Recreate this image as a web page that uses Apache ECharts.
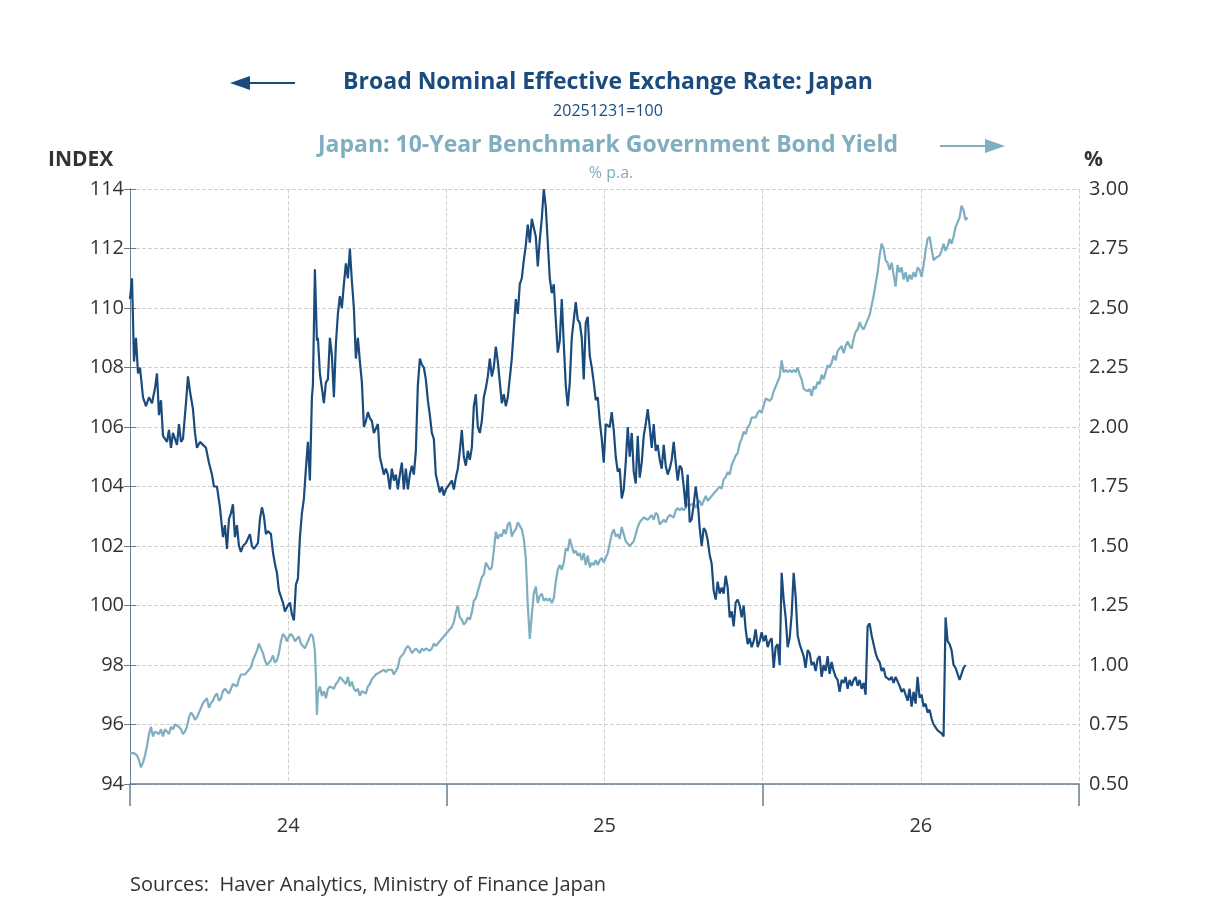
<!DOCTYPE html>
<html><head><meta charset="utf-8">
<script src="https://cdn.jsdelivr.net/npm/echarts@6/dist/echarts.min.js"></script>
<style>html,body{margin:0;padding:0;background:#fff}#c{width:1208px;height:906px}</style>
</head><body><div id="c"></div>
<script>
// x unit: trading-session offset from series start; axis spans 0..949, one year = 316.5
const yearLabels = ['24', '25', '26'];
// Broad NEER (index), irregular head then regular every 2 sessions
const neerHead = [[0,110.3],[2,111.0],[4,108.2],[6,109.0],[8,107.8],[10,108.0],[13,107.0],[16,106.7],[19,107.0],[22,106.8],[25,107.3],[27,107.8],[29,106.4],[31,106.9],[33,105.7],[35,105.6],[37,105.5],[39,105.9],[41,105.3],[43,105.8],[45,105.6],[47,105.4],[49,106.1],[51,105.5],[53,105.6],[56,106.8],[58,107.7],[60,107.2],[63,106.6],[65,105.8],[67,105.3],[70,105.5],[73,105.4],[76,105.3],[79,104.8],[82,104.4],[84,104.0],[87,104.0],[90,103.3],[93,102.3],[95,102.7],[97,101.9],[99,102.9],[101,103.1],[103,103.4],[105,102.3],[107,102.7],[109,102.0],[111,101.8],[113,102.0],[116,102.1],[120,102.4],[122,102.0],[124,101.9],[126,102.0],[128,102.1],[130,102.9],[132,103.3],[134,103.0],[136,102.4],[138,102.5],[141,102.4],[143,101.8],[145,101.4],[147,101.1],[149,100.5],[151,100.3],[153,100.1],[155,99.8],[158,100.0],[160,100.1],[162,99.7],[164,99.5],[166,100.7],[168,100.9],[170,102.3],[172,103.1],[174,103.6],[176,104.6],[178,105.5],[180,104.2],[182,107.0],[183,107.4],[185,111.3],[187,108.9],[188,109.0]];
const neerTailStart = 190;
const neerTail = [107.8,107.3,106.8,107.5,107.6,109.0,108.4,107.0,108.8,109.8,110.4,110.0,110.8,
111.5,111.0,112.0,110.9,110.0,108.3,109.0,108.2,107.5,106.0,106.2,106.5,106.3,106.2,105.8,105.8,106.1,105.0,105.0,104.4,104.6,104.4,103.9,104.6,104.2,104.4,103.9,104.4,104.8,103.9,104.6,103.9,104.4,104.7,104.4,105.2,107.4,108.3,108.1,108.0,107.6,106.9,106.4,105.8,105.6,104.4,104.1,103.8,104.0,103.7,103.9,104.0,
104.0,104.2,103.9,104.3,104.6,105.2,105.9,105.0,104.7,105.2,104.9,105.3,106.7,107.1,106.0,105.8,106.2,107.0,107.3,107.7,108.3,107.7,108.0,108.7,108.2,107.5,106.8,107.1,106.7,107.0,107.0,108.3,109.3,110.3,109.8,110.8,111.0,111.6,112.1,112.8,112.2,113.0,112.7,112.4,111.4,112.3,113.0,114.0,113.4,112.2,111.0,110.5,110.8,109.6,108.5,108.9,110.3,108.8,107.4,106.7,107.5,109.0,109.6,110.2,109.6,109.5,109.0,107.6,109.5,109.7,108.4,108.0,107.5,106.9,107.0,106.2,105.6,104.8,106.1,106.1,106.0,106.5,105.9,105.0,104.5,104.6,103.6,103.9,104.8,106.0,105.0,105.8,104.5,104.1,105.7,104.3,104.8,105.7,106.1,106.6,106.0,105.3,106.1,105.2,105.4,104.9,104.6,105.4,104.7,104.4,104.6,104.9,105.5,104.8,104.2,104.7,104.6,104.0,103.3,104.4,102.8,102.9,103.4,104.0,103.5,102.6,102.0,102.6,102.5,102.2,101.7,101.4,100.5,100.2,100.8,100.4,100.6,100.4,101.0,100.6,99.6,99.8,99.3,100.1,100.2,100.0,99.6,100.0,99.2,98.7,98.9,98.6,98.8,99.2,98.6,98.8,99.1,98.8,99.0,98.6,98.8,98.9,97.9,98.6,98.7,98.0,101.1,100.2,99.6,98.6,98.9,99.7,101.1,100.3,99.0,98.7,98.7,98.3,97.9,98.5,98.4,98.0,98.1,97.8,98.2,98.3,97.6,98.0,97.8,98.3,97.7,98.1,97.8,97.6,97.5,97.1,97.5,97.4,97.6,97.2,97.5,97.3,97.5,97.6,97.3,97.5,97.2,97.4,97.0,99.3,99.4,99.0,98.7,98.4,98.2,98.1,97.8,97.9,97.6,97.6,97.5,97.6,97.4,97.6,97.6,97.3,97.1,97.2,97.0,96.8,97.2,96.6,97.1,96.7,97.6,96.9,97.0,96.6,96.7,96.4,96.5,96.2,96.0,95.9,95.8,95.8,95.7,95.6,99.6,98.8,98.7,98.5,98.0,97.9,97.9,97.5,97.5,97.9,98.0];
// JGB 10Y yield (% p.a.)
const jgbHead = [[0,0.63],[4,0.63],[7,0.62],[9,0.60],[11,0.57],[13,0.59],[15,0.62],[17,0.66],[19,0.71],[21,0.74],[23,0.70],[25,0.72],[27,0.72],[29,0.71],[31,0.73],[33,0.70],[35,0.73],[37,0.73],[39,0.71],[41,0.74],[43,0.73],[45,0.75],[47,0.75],[49,0.74],[51,0.73],[53,0.71],[55,0.72],[57,0.74],[59,0.78],[61,0.80],[63,0.79],[65,0.77],[67,0.78],[69,0.80],[71,0.82],[73,0.84],[75,0.85],[77,0.86],[79,0.82],[81,0.84],[83,0.85],[85,0.87],[87,0.88],[89,0.85],[91,0.86],[93,0.89],[95,0.90],[97,0.90],[99,0.88],[101,0.90],[103,0.92],[105,0.92],[107,0.91],[109,0.94],[111,0.96],[113,0.96],[115,0.96],[117,0.97],[119,0.98],[121,0.99],[123,1.02],[125,1.04],[127,1.06],[129,1.09],[131,1.07],[133,1.05],[135,1.02],[137,1.00],[139,1.01],[141,1.02],[143,1.04],[145,1.01],[147,1.02],[149,1.05],[151,1.10],[153,1.13],[155,1.12],[157,1.10],[159,1.12],[161,1.13],[163,1.12],[165,1.10],[167,1.11],[169,1.12],[171,1.09],[173,1.08],[175,1.07],[177,1.09],[179,1.11],[181,1.13],[183,1.12],[185,1.06],[186,0.95],[187,0.79],[188,0.88]];
const jgbTailStart = 190;
const jgbTail = [0.91,0.87,0.89,0.86,0.90,0.91,0.91,0.90,0.92,0.93,0.95,0.94,0.93,0.92,0.95,0.91,0.93,0.90,0.89,0.90,0.87,0.89,0.89,0.88,0.91,0.92,0.94,0.95,0.96,0.96,0.97,0.97,0.98,0.97,0.98,0.98,0.98,0.96,0.96,0.99,1.03,1.03,1.05,1.07,1.08,1.07,1.05,1.06,1.07,1.06,1.05,1.07,1.06,1.07,1.07,1.06,1.07,1.09,1.08,1.09,1.09,1.11,1.12,1.13,1.14,1.15,1.16,1.18,1.22,1.25,1.20,1.19,1.17,1.18,1.20,1.19,1.22,1.27,1.28,1.31,1.34,1.37,1.38,1.43,1.43,1.40,1.41,1.48,1.56,1.53,1.55,1.54,1.57,1.55,1.59,1.60,1.54,1.56,1.57,1.60,1.60,1.57,1.53,1.45,1.25,1.11,1.21,1.30,1.33,1.26,1.29,1.30,1.27,1.28,1.27,1.28,1.26,1.28,1.35,1.40,1.42,1.40,1.43,1.49,1.48,1.53,1.50,1.47,1.48,1.46,1.47,1.44,1.47,1.42,1.46,1.41,1.43,1.42,1.44,1.42,1.44,1.45,1.43,1.43,1.47,1.51,1.55,1.57,1.54,1.55,1.53,1.58,1.58,1.52,1.51,1.50,1.51,1.52,1.55,1.58,1.60,1.61,1.62,1.62,1.61,1.62,1.63,1.61,1.64,1.63,1.59,1.59,1.61,1.60,1.62,1.63,1.63,1.62,1.65,1.66,1.65,1.66,1.65,1.66,1.68,1.67,1.67,1.68,1.66,1.68,1.69,1.67,1.69,1.71,1.69,1.70,1.71,1.72,1.73,1.74,1.75,1.74,1.78,1.79,1.81,1.80,1.84,1.86,1.88,1.89,1.93,1.95,1.98,1.97,2.00,2.01,2.04,2.04,2.04,2.06,2.07,2.06,2.09,2.12,2.12,2.11,2.12,2.15,2.17,2.19,2.21,2.28,2.23,2.24,2.23,2.24,2.23,2.24,2.23,2.25,2.22,2.20,2.16,2.16,2.15,2.16,2.13,2.17,2.16,2.19,2.18,2.22,2.20,2.23,2.26,2.25,2.27,2.30,2.28,2.32,2.33,2.34,2.31,2.34,2.36,2.34,2.33,2.37,2.40,2.41,2.44,2.42,2.41,2.43,2.45,2.47,2.51,2.55,2.60,2.65,2.72,2.77,2.75,2.70,2.69,2.66,2.69,2.64,2.59,2.68,2.65,2.67,2.62,2.65,2.61,2.64,2.62,2.65,2.63,2.67,2.66,2.63,2.68,2.74,2.79,2.80,2.75,2.70,2.71,2.71,2.72,2.74,2.77,2.74,2.76,2.79,2.77,2.80,2.84,2.86,2.88,2.93,2.91,2.87,2.88];

function build(head, start, tail) {
  return head.concat(tail.map((v, i) => [start + 2 * i, v]));
}
const DARK = '#1b4b7c', LIGHT = '#7eaebf', AX = '#6b7c8f';
const FONT = '"Open Sans", Lato, sans-serif';
const chart = echarts.init(document.getElementById('c'));
chart.setOption({
  animation: false,
  textStyle: { fontFamily: FONT },
  grid: { left: 130, right: 129, top: 189, bottom: 122 },
  title: [
    { text: 'Broad Nominal Effective Exchange Rate: Japan', left: 603, top: 66, textAlign: 'center', textStyle: { color: DARK, fontSize: 23, fontWeight: 'bold', fontFamily: FONT } },
    { text: '20251231=100', left: 603, top: 98, textAlign: 'center', textStyle: { color: DARK, fontSize: 16, fontWeight: 'normal', fontFamily: FONT } },
    { text: 'Japan: 10-Year Benchmark Government Bond Yield', left: 603, top: 129, textAlign: 'center', textStyle: { color: LIGHT, fontSize: 23, fontWeight: 'bold', fontFamily: FONT } },
    { text: '% p.a.', left: 606, top: 160, textAlign: 'center', textStyle: { color: LIGHT, fontSize: 16, fontWeight: 'normal', fontFamily: FONT } },
    { text: 'Sources:  Haver Analytics, Ministry of Finance Japan', left: 125, top: 870, textStyle: { color: '#333', fontSize: 20, fontWeight: 'normal', fontFamily: FONT } }
  ],
  graphic: [
    { type: 'line', shape: { x1: 240, y1: 83, x2: 295, y2: 83 }, style: { stroke: DARK, lineWidth: 2 } },
    { type: 'polygon', shape: { points: [[230, 83], [250, 76], [250, 90]] }, style: { fill: DARK } },
    { type: 'line', shape: { x1: 940, y1: 146, x2: 995, y2: 146 }, style: { stroke: LIGHT, lineWidth: 2 } },
    { type: 'polygon', shape: { points: [[1005, 146], [985, 139], [985, 153]] }, style: { fill: LIGHT } },
    { type: 'text', left: 48, top: 150, style: { text: 'INDEX', fill: '#333', font: 'bold 21px ' + FONT } },
    { type: 'text', left: 1084, top: 150, style: { text: '%', fill: '#333', font: 'bold 21px ' + FONT } }
  ],
  xAxis: [
    { type: 'value', min: 0, max: 949.5, interval: 158.25,
      axisLine: { lineStyle: { color: AX, width: 1.5 } }, axisTick: { show: false },
      splitLine: { show: true, lineStyle: { color: '#d0d0d0', type: 'dashed' } },
      axisLabel: { color: '#333', fontSize: 20, margin: 32, formatter: v => { const k = Math.round(v / 158.25); return k % 2 === 1 ? yearLabels[(k - 1) / 2] : ''; } } },
    { type: 'value', min: 0, max: 949.5, interval: 316.5, position: 'bottom',
      axisLine: { show: false }, axisLabel: { show: false }, splitLine: { show: false },
      axisTick: { show: true, length: 22, lineStyle: { color: AX, width: 1.5 } } }
  ],
  yAxis: [
    { type: 'value', min: 94, max: 114, interval: 2,
      axisLine: { show: true, lineStyle: { color: AX } }, axisTick: { show: true, length: 6, lineStyle: { color: AX } },
      splitLine: { show: true, lineStyle: { color: '#d0d0d0', type: 'dashed' } },
      axisLabel: { color: '#333', fontSize: 20, margin: 6 } },
    { type: 'value', min: 0.5, max: 3.0, interval: 0.25, position: 'right',
      axisLine: { show: true, lineStyle: { color: AX } }, axisTick: { show: true, length: 6, lineStyle: { color: AX } },
      splitLine: { show: false },
      axisLabel: { color: '#333', fontSize: 20, margin: 10, formatter: v => v.toFixed(2) } }
  ],
  series: [
    { type: 'line', xAxisIndex: 0, yAxisIndex: 1, data: build(jgbHead, jgbTailStart, jgbTail), showSymbol: false, lineStyle: { color: LIGHT, width: 2.2 }, z: 2 },
    { type: 'line', xAxisIndex: 0, yAxisIndex: 0, data: build(neerHead, neerTailStart, neerTail), showSymbol: false, lineStyle: { color: DARK, width: 2.2 }, z: 3 }
  ]
});
</script></body></html>
